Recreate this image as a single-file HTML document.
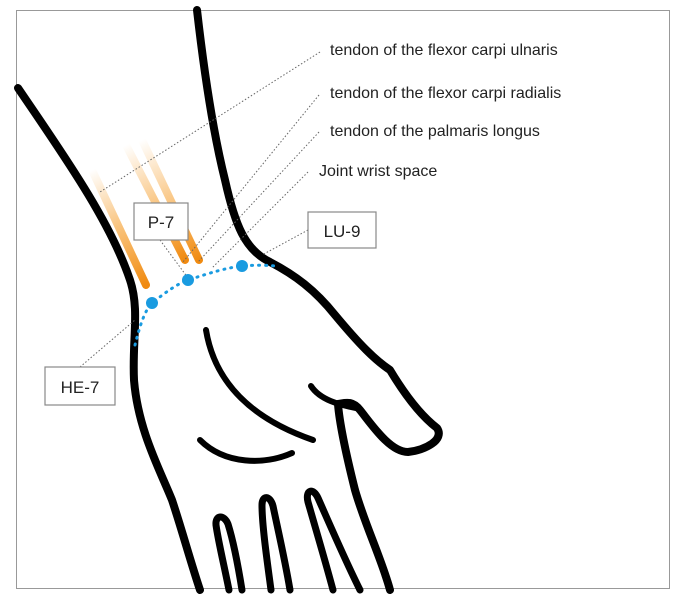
<!DOCTYPE html>
<html><head><style>
html,body{margin:0;padding:0;background:#fff;}
svg{display:block;}
text{font-family:"Liberation Sans",sans-serif;fill:#222;}
</style></head><body>
<svg width="684" height="600" viewBox="0 0 684 600" xmlns="http://www.w3.org/2000/svg">
<defs>
<linearGradient id="o1" gradientUnits="userSpaceOnUse" x1="92" y1="170" x2="146" y2="285">
<stop offset="0" stop-color="#f59a23" stop-opacity="0"/>
<stop offset="0.5" stop-color="#f59a23" stop-opacity="0.6"/>
<stop offset="1" stop-color="#f08a10" stop-opacity="1"/>
</linearGradient>
<linearGradient id="o2" gradientUnits="userSpaceOnUse" x1="126" y1="145" x2="185" y2="260">
<stop offset="0" stop-color="#f59a23" stop-opacity="0"/>
<stop offset="0.5" stop-color="#f59a23" stop-opacity="0.55"/>
<stop offset="1" stop-color="#f08a10" stop-opacity="1"/>
</linearGradient>
<linearGradient id="o3" gradientUnits="userSpaceOnUse" x1="142" y1="140" x2="199" y2="260">
<stop offset="0" stop-color="#f59a23" stop-opacity="0"/>
<stop offset="0.5" stop-color="#f59a23" stop-opacity="0.55"/>
<stop offset="1" stop-color="#f08a10" stop-opacity="1"/>
</linearGradient>
</defs>
<rect x="16.5" y="10.5" width="653" height="578" fill="#fff" stroke="#999" stroke-width="1"/>
<line x1="92" y1="170" x2="146" y2="285" stroke="url(#o1)" stroke-width="8" stroke-linecap="round"/>
<line x1="126" y1="145" x2="185" y2="260" stroke="url(#o2)" stroke-width="8" stroke-linecap="round"/>
<line x1="142" y1="140" x2="199" y2="260" stroke="url(#o3)" stroke-width="8" stroke-linecap="round"/>
<!-- arm/hand outlines -->
<g fill="none" stroke="#000" stroke-width="8" stroke-linecap="round" stroke-linejoin="round">
<path d="M18 88 C60 150 110 220 130 280 C140 310 132 340 134 380 C138 430 160 470 172 500 C182 530 190 560 200 590"/>
<path d="M197 10 C205 80 215 140 225 180 C235 225 245 250 270 262 C295 275 315 290 335 315 C360 345 375 360 390 370 C405 395 420 415 437 428 C445 440 425 450 408 452 C390 452 372 425 360 410 C352 400 345 403 338 404 C340 430 350 470 355 490 C365 525 382 560 390 590"/>
<path d="M311 386 C320 400 340 405 356 408" stroke-width="6"/>
<path d="M206 330 C215 385 255 420 313 440" stroke-width="6"/>
<path d="M200 440 C225 465 265 465 292 453" stroke-width="6"/>
<path d="M229 590 C224 565 218 540 216 525 C215 515 224 514 228 524 C233 540 238 565 242 590" stroke-width="7"/>
<path d="M271 590 C267 560 262 525 262 505 C262 495 270 495 273 506 C278 530 285 560 290 590" stroke-width="7"/>
<path d="M333 590 C325 560 316 530 308 502 C305 490 313 487 318 498 C330 525 345 560 360 590" stroke-width="7"/>
</g>
<!-- leaders -->
<g stroke="#666" stroke-width="1" stroke-dasharray="1.5,2" fill="none">
<line x1="320" y1="52" x2="100" y2="192"/>
<line x1="319" y1="95" x2="183" y2="262"/>
<line x1="319" y1="132" x2="198" y2="262"/>
<line x1="308" y1="172" x2="212" y2="268"/>
<line x1="308" y1="230" x2="262" y2="255"/>
<line x1="160" y1="240" x2="188" y2="278"/>
<line x1="80" y1="367" x2="135" y2="320"/>
</g>
<!-- blue dots -->
<path d="M135 345 C140 325 145 310 152 303 C165 293 175 285 188 280 C210 273 225 268 242 266 C255 265 265 265 275 266" fill="none" stroke="#1a9be0" stroke-width="3" stroke-dasharray="1,6" stroke-linecap="round"/>
<circle cx="152" cy="303" r="6" fill="#1a9be0"/>
<circle cx="188" cy="280" r="6" fill="#1a9be0"/>
<circle cx="242" cy="266" r="6" fill="#1a9be0"/>
<!-- boxes -->
<g fill="#fff" stroke="#888" stroke-width="1.2">
<rect x="134" y="203" width="54" height="37"/>
<rect x="308" y="212" width="68" height="36"/>
<rect x="45" y="367" width="70" height="38"/>
</g>
<text x="161" y="228" font-size="17" text-anchor="middle">P-7</text>
<text x="342" y="237" font-size="17" text-anchor="middle">LU-9</text>
<text x="80" y="393" font-size="17" text-anchor="middle">HE-7</text>
<text x="330" y="55" font-size="16">tendon of the flexor carpi ulnaris</text>
<text x="330" y="98" font-size="16">tendon of the flexor carpi radialis</text>
<text x="330" y="136" font-size="16">tendon of the palmaris longus</text>
<text x="319" y="176" font-size="16">Joint wrist space</text>
</svg>
</body></html>
